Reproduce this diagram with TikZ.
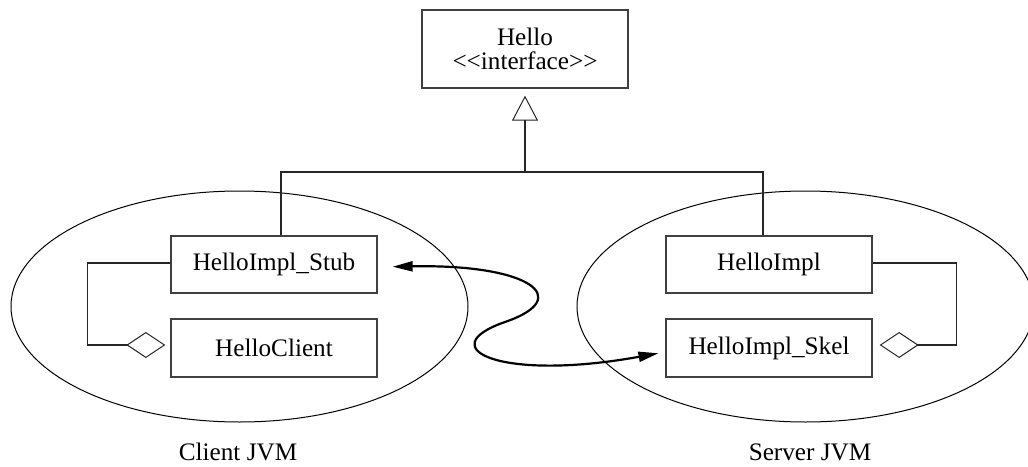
\documentclass[tikz,border=0pt]{standalone}
\usepackage{fontspec}
\setmainfont{Liberation Serif}
\usetikzlibrary{arrows.meta}
\begin{document}
\begin{tikzpicture}[x=0.5pt,y=-0.5pt,
  every node/.style={font=\fontsize{12.6}{11.8}\selectfont},
  cls/.style={draw=black!75,line width=0.65pt,rectangle,minimum width=103pt,inner sep=0pt,align=center},
  wire/.style={draw=black!85,line width=0.65pt},
  realize/.style={wire,-{Triangle[open,length=12.5pt,width=13pt,line width=0.5pt]},shorten >=3.5pt},
  aggr/.style={wire,-{Diamond[open,length=19.5pt,width=13pt,line width=0.5pt]}},
  jvm/.style={draw=black,line width=0.5pt},
  rmi/.style={draw=black,line width=1.1pt,{Triangle[length=10pt,width=5pt]}-{Triangle[length=10pt,width=5pt]}}]
\useasboundingbox (0,0) rectangle (1028,466);

% the two virtual machines
\draw[jvm] (239.5,306.5) ellipse [x radius=114.25pt, y radius=57.75pt];
\draw[jvm] (805.5,306.5) ellipse [x radius=114.25pt, y radius=57.75pt];
\node (clientjvm) at (238,452) {Client JVM};
\node (serverjvm) at (810,452) {Server JVM};

% classes
\node[cls,minimum height=39pt] (hello) at (525,49) {Hello\\{<}{<}interface{>}{>}};
\node[cls,minimum height=28.5pt] (stub) at (274,264.5) {HelloImpl\_Stub};
\node[cls,minimum height=29pt] (client) at (274,348) {HelloClient};
\node[cls,minimum height=28.5pt] (impl) at (769,264.5) {HelloImpl};
\node[cls,minimum height=29pt] (skel) at (769,348) {HelloImpl\_Skel};

% realization of the interface
\coordinate (jl) at (281,172);
\coordinate (jm) at (525,172);
\coordinate (jr) at (763,172);
\draw[wire] (stub.north -| jl) -- (jl) -- (jr) -- (impl.north -| jr);
\draw[realize] (jm) -- (hello.south);

% aggregations
\draw[aggr,shorten >=2.5pt] ([yshift=0.75pt]stub.west) -- ++(-83,0) |- ([yshift=1.5pt]client.west);
\draw[aggr,shorten >=3.5pt] ([yshift=0.75pt]impl.east) -- ++(84,0) |- ([yshift=1.5pt]skel.east);

% remote call between stub and skeleton
\draw[rmi,shorten <=7.5pt,shorten >=3.5pt]
  ([yshift=-1.25pt]stub.east) .. controls (530,264) and (575,298) .. (505,322)
  .. controls (430,348) and (500,382) .. ([yshift=-2pt]skel.west);
\end{tikzpicture}
\end{document}
